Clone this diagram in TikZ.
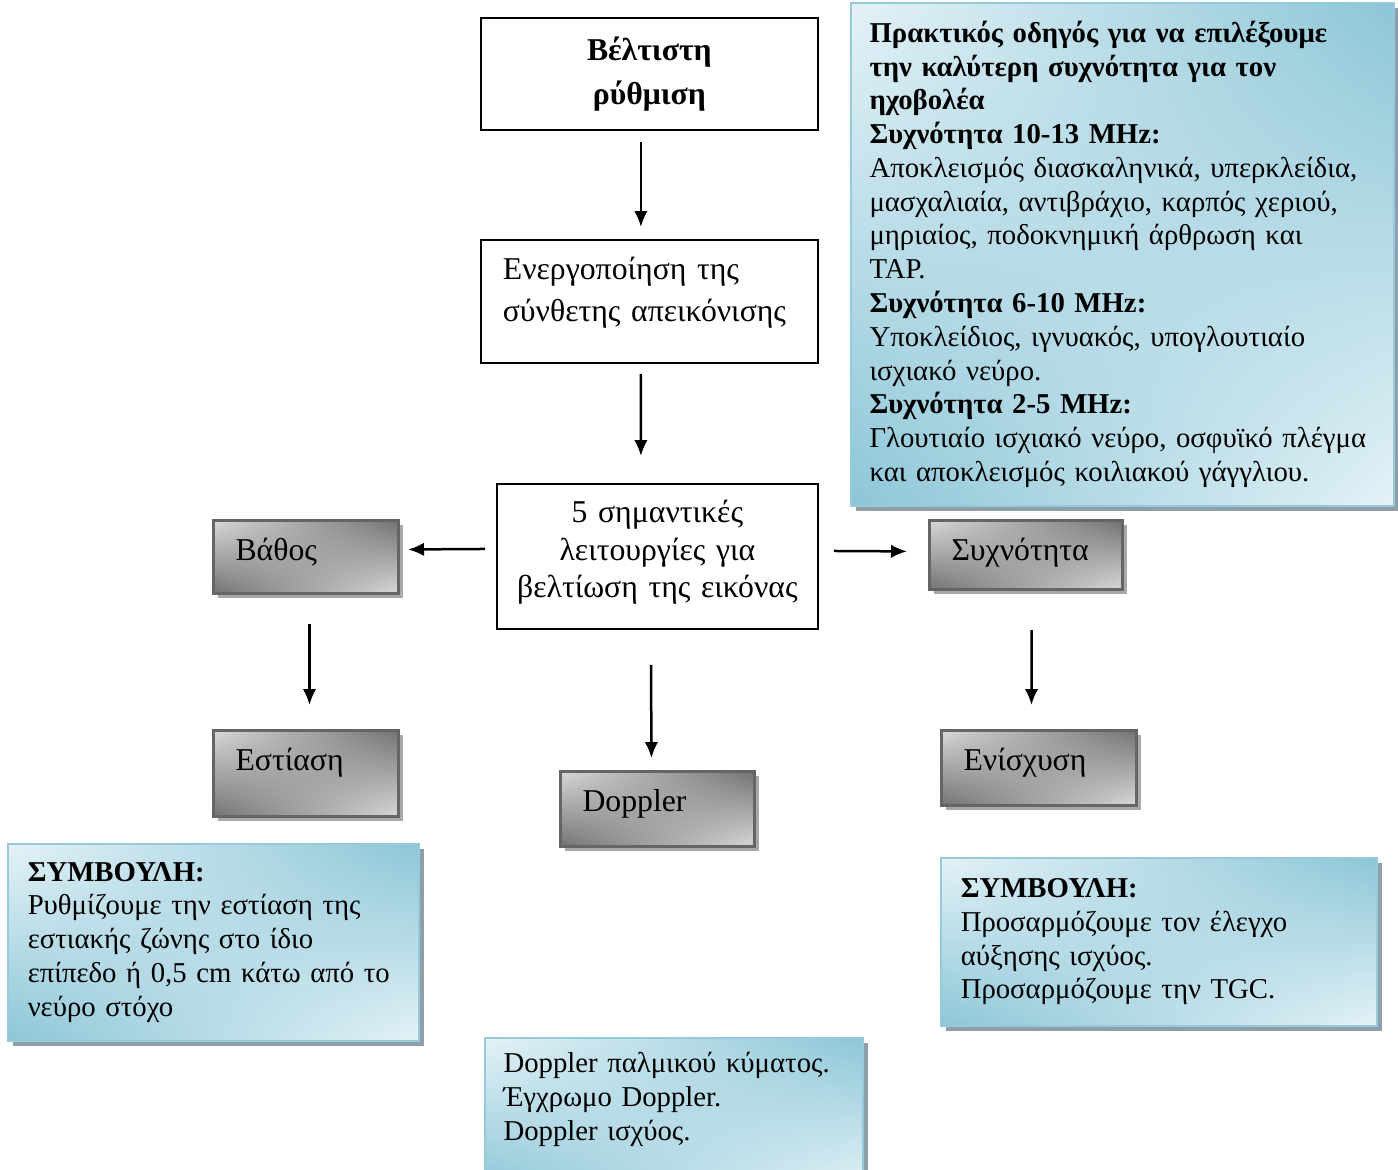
\documentclass[tikz,border=0pt]{standalone}
\usepackage{fontspec}
\setmainfont{Liberation Serif}
\usetikzlibrary{arrows.meta,shadows,shadings}
\definecolor{greydark}{HTML}{727272}
\definecolor{greylight}{HTML}{D8D8D8}
\definecolor{greyline}{HTML}{656565}
\definecolor{greyshadow}{HTML}{A8A8A8}
\definecolor{bluedark}{HTML}{8CC6D7}
\definecolor{bluelight}{HTML}{E4F2F7}
\definecolor{blueline}{HTML}{96CADA}
\definecolor{blueshadow}{HTML}{8E9FAA}

\begin{document}
\begin{tikzpicture}[x=0.4pt,y=-0.4pt,
  plain/.style={draw=black, line width=0.7pt, anchor=north west, inner xsep=4pt},
  greybox/.style={draw=greyline, line width=1.2pt, anchor=north west, inner xsep=8.8pt, inner ysep=4pt,
    text height=12pt, align=left,
    upper left=greylight, lower right=greylight, upper right=greydark, lower left=greydark,
    font=\fontsize{12.7}{15}\selectfont,
    drop shadow={shadow xshift=1.6pt, shadow yshift=-1.6pt, fill=greyshadow, opacity=1}},
  bluebox/.style={draw=blueline, line width=0.6pt, anchor=north west, inner xsep=8pt, align=left,
    upper left=bluelight, lower right=bluelight, upper right=bluedark, lower left=bluedark,
    font=\fontsize{11.5}{13.5}\selectfont,
    drop shadow={shadow xshift=2pt, shadow yshift=-2pt, fill=blueshadow, opacity=1}},
  link/.style={-{Latex[length=6.4pt,width=5.4pt]}, line width=1pt}]
\useasboundingbox (0,0) rectangle (1398,1169);

\node[plain, align=center, text width=126.8pt, minimum height=44.8pt, font=\fontsize{12.7}{17.6}\selectfont\bfseries] (best) at (480,17) {Βέλτιστη\\ ρύθμιση};
\node[plain, align=left, inner xsep=8.8pt, inner ysep=4pt, text width=117.2pt, text height=12pt, text depth=29.2pt, font=\fontsize{12.7}{16.8}\selectfont] (active) at (480,239) {Ενεργοποίηση της\\ σύνθετης απεικόνισης};
\node[plain, align=center, inner ysep=4pt, text width=120.4pt, text height=11.6pt, text depth=38.4pt, font=\fontsize{12.7}{15}\selectfont] (five) at (496,483) {5 σημαντικές\\ λειτουργίες για\\ βελτίωση της εικόνας};

\node[greybox, text width=56.4pt, text depth=9.2pt] (depth) at (212,519) {Βάθος};
\node[greybox, text width=59.6pt, text depth=7.6pt] (freq) at (928,519) {Συχνότητα};
\node[greybox, text width=56.4pt, text depth=14.4pt] (focus) at (212,729) {Εστίαση};
\node[greybox, text width=60pt, text depth=10pt] (doppler) at (559,770) {Doppler};
\node[greybox, text width=60.4pt, text depth=10pt] (gain) at (940,729) {Ενίσχυση};

\node[bluebox, inner xsep=7.5pt, text width=202.2pt, minimum height=201.2pt] (guide) at (850,2) {\textbf{Πρακτικός οδηγός για να επιλέξουμε}\\ \textbf{την καλύτερη συχνότητα για τον}\\ \textbf{ηχοβολέα}\\ \textbf{Συχνότητα 10-13 MHz:}\\ Αποκλεισμός διασκαληνικά, υπερκλείδια,\\ μασχαλιαία, αντιβράχιο, καρπός χεριού,\\ μηριαίος, ποδοκνημική άρθρωση και\\ TAP.\\ \textbf{Συχνότητα 6-10 MHz:}\\ Υποκλείδιος, ιγνυακός, υπογλουτιαίο\\ ισχιακό νεύρο.\\ \textbf{Συχνότητα 2-5 MHz:}\\ Γλουτιαίο ισχιακό νεύρο, οσφυϊκό πλέγμα\\ και αποκλεισμός κοιλιακού γάγγλιου.};
\node[bluebox, text width=148.4pt, minimum height=78.8pt] (tipfocus) at (7,843) {\textbf{ΣΥΜΒΟΥΛΗ:}\\ Ρυθμίζουμε την εστίαση της\\ εστιακής ζώνης στο ίδιο\\ επίπεδο ή 0,5 cm κάτω από το\\ νεύρο στόχο};
\node[bluebox, text width=158.4pt, minimum height=67.2pt] (tipgain) at (940,857) {\textbf{ΣΥΜΒΟΥΛΗ:}\\ Προσαρμόζουμε τον έλεγχο\\ αύξησης ισχύος.\\ Προσαρμόζουμε την TGC.};
\node[bluebox, inner xsep=7.5pt, inner ysep=6pt, text width=136.2pt, text height=8pt, text depth=41pt] (dopplerinfo) at (484,1037) {Doppler παλμικού κύματος.\\ Έγχρωμο Doppler.\\ Doppler ισχύος.};

\draw[link, shorten <=4.4pt, shorten >=4.8pt] ([xshift=-3.4pt]best.south) -- ([xshift=-3.4pt]active.north);
\draw[link, shorten <=4pt, shorten >=10.8pt] ([xshift=-3.4pt]active.south) -- ([xshift=-6.6pt]five.north);
\draw[link, shorten <=4.4pt, shorten >=3.2pt] ([yshift=3pt]five.west) -- ([yshift=3pt]depth.east);
\draw[link, shorten <=6pt, shorten >=8.4pt] ([yshift=2.2pt]five.east) -- ([yshift=1.4pt]freq.west);
\draw[link, shorten <=11.6pt, shorten >=9.6pt] ([xshift=1.4pt]depth.south) -- ([xshift=1.4pt]focus.north);
\draw[link, shorten <=14pt, shorten >=4.8pt] ([xshift=-2.6pt]five.south) -- ([xshift=-2.4pt]doppler.north);
\draw[link, shorten <=15.6pt, shorten >=9.6pt] ([xshift=2.2pt]freq.south) -- ([xshift=-3pt]gain.north);
\end{tikzpicture}
\end{document}
